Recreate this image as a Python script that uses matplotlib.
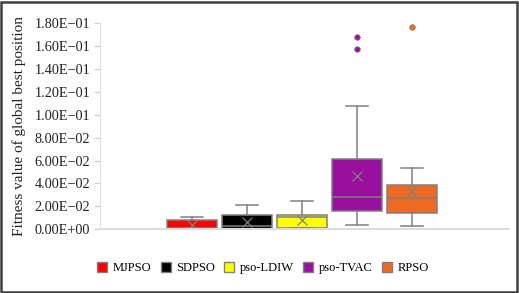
import matplotlib
matplotlib.use("Agg")
import matplotlib.pyplot as plt
from matplotlib.patches import Patch, Rectangle
from matplotlib.ticker import FuncFormatter

plt.rcParams['font.family'] = ['Liberation Serif', 'DejaVu Serif']

series = ["MJPSO", "SDPSO", "pso-LDIW", "pso-TVAC", "RPSO"]
colors = ["#FF0000", "#000000", "#FFFF00", "#990F9E", "#EE6A22"]
whislo = [0.0002, 0.0002, 0.0009, 0.0040, 0.0029]
q1 = [0.0004, 0.0004, 0.0014, 0.0160, 0.0142]
med = [0.0010, 0.0029, 0.0110, 0.0282, 0.0276]
q3 = [0.0081, 0.0122, 0.0125, 0.0613, 0.0389]
whishi = [0.0110, 0.0212, 0.0247, 0.1075, 0.0535]
means = [0.0037, 0.0066, 0.0081, 0.0465, 0.0334]
fliers = [[], [], [], [0.1678, 0.1576], [0.1763]]
yticks = [0.0, 0.02, 0.04, 0.06, 0.08, 0.10, 0.12, 0.14, 0.16, 0.18]

W, H = 519, 293
fig = plt.figure(figsize=(W / 100, H / 100), dpi=100)
ax = fig.add_axes([100 / W, (H - 229.3) / H, 409 / W, (229.3 - 23) / H])

positions = [-2, -1, 0, 1, 2]
grey = "#808080"
for i, name in enumerate(series):
    stats = [dict(label=name, whislo=whislo[i], q1=q1[i], med=med[i], q3=q3[i],
                  whishi=whishi[i], mean=means[i], fliers=fliers[i])]
    ax.bxp(stats, positions=[positions[i]], widths=0.91, patch_artist=True,
           showmeans=True, showfliers=True,
           boxprops=dict(facecolor=colors[i], edgecolor=grey, linewidth=1.1),
           medianprops=dict(color=grey, linewidth=1.1),
           whiskerprops=dict(color=grey, linewidth=1.1),
           capprops=dict(color=grey, linewidth=1.1),
           capwidths=0.4,
           meanprops=dict(marker="x", markeredgecolor=grey, markersize=7, markeredgewidth=0.9),
           flierprops=dict(marker="o", markerfacecolor=colors[i], markeredgecolor=grey,
                           markersize=4, markeredgewidth=0.6))

ax.set_xlim(-3.67, 3.76)
ax.set_ylim(0, 0.18)
ax.set_yticks(yticks)

def fmt(v, pos):
    s = "%.2E" % v
    return s.replace("-", "\u2212")
ax.yaxis.set_major_formatter(FuncFormatter(fmt))
ax.set_xticks([])
for sp in ["top", "right"]:
    ax.spines[sp].set_visible(False)
ax.spines["left"].set_color("#e0e0e0")
ax.spines["bottom"].set_color("#dcdcdc")
ax.spines["bottom"].set_linewidth(1.5)
ax.tick_params(axis="y", colors="#d0d0d0", labelcolor="#222222", labelsize=10.3, length=4, pad=3)
ax.set_ylabel("Fitness value of global best position", fontsize=11, color="#222222", labelpad=6)

handles = [Patch(facecolor=c, edgecolor=grey, label=s) for c, s in zip(colors, series)]
fig.legend(handles=handles, loc="center", bbox_to_anchor=(263 / W, 1 - 268 / H), ncol=5,
           frameon=False, fontsize=9, handlelength=0.8, handleheight=0.8,
           handletextpad=0.45, columnspacing=0.75)

fig.patches.append(Rectangle((0.8 / W, 0.8 / H), 1 - 2.6 / W, 1 - 2.6 / H, transform=fig.transFigure,
                             fill=False, edgecolor="#404040", linewidth=1.8))

fig.savefig("out.png", dpi=100)
